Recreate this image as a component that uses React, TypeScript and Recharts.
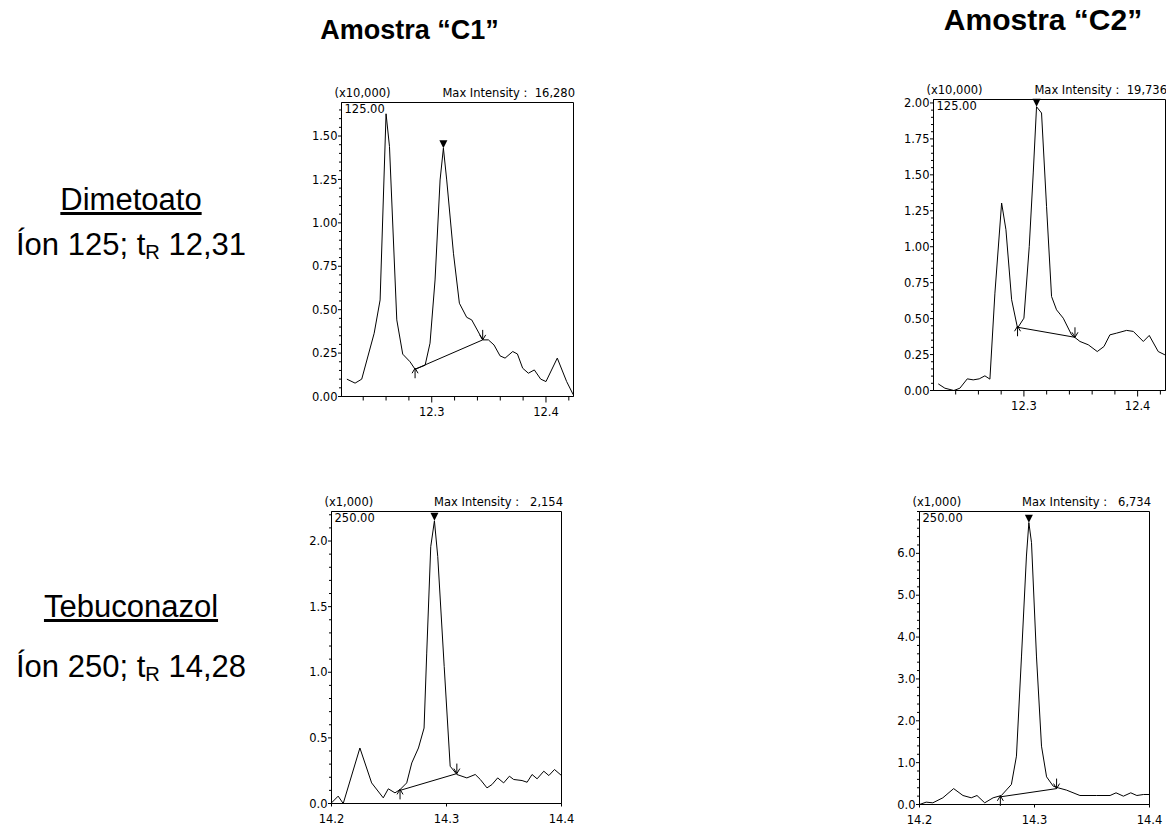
import { LineChart, Line, XAxis, YAxis, ReferenceArea, ReferenceLine, ReferenceDot } from "recharts"

const TICK_FONT = "'DejaVu Sans', Verdana, sans-serif"
const TEXT_FONT = "'Liberation Sans', Arial, sans-serif"

// Dimetoato, ion 125 — retention time (min) vs intensity (x10,000)
const C1_DIM_TIME = [12.2257, 12.2329, 12.2387, 12.2496, 12.2548, 12.26, 12.263, 12.2694, 12.2746, 12.281, 12.2854, 12.2942, 12.2985, 12.3029, 12.3073, 12.3102, 12.3131, 12.319, 12.3242, 12.3306, 12.335, 12.3446, 12.3496, 12.3545, 12.3598, 12.3642, 12.3709, 12.375, 12.3796, 12.3846, 12.3898, 12.3954, 12.4, 12.4099, 12.4181, 12.4239]
const C1_DIM_INT = [0.1, 0.077, 0.1, 0.364, 0.556, 1.628, 1.44, 0.441, 0.244, 0.2, 0.157, 0.18, 0.307, 0.671, 1.247, 1.43, 1.247, 0.825, 0.537, 0.456, 0.441, 0.326, 0.326, 0.297, 0.234, 0.221, 0.259, 0.245, 0.163, 0.134, 0.153, 0.1, 0.086, 0.221, 0.086, 0.01]

const C2_DIM_TIME = [12.2247, 12.2305, 12.2384, 12.2437, 12.2502, 12.2554, 12.2607, 12.2657, 12.2701, 12.2745, 12.2804, 12.2842, 12.2892, 12.2944, 12.3, 12.3047, 12.3082, 12.3111, 12.3155, 12.3199, 12.3243, 12.3287, 12.3346, 12.3419, 12.3493, 12.3566, 12.3645, 12.3704, 12.3756, 12.3815, 12.3903, 12.3962, 12.405, 12.4102, 12.4181, 12.424]
const C2_DIM_INT = [0.046, 0.016, 0.0, 0.016, 0.081, 0.074, 0.081, 0.102, 0.079, 0.677, 1.304, 1.118, 0.631, 0.434, 0.503, 1.002, 1.513, 1.9736, 1.93, 1.281, 0.654, 0.561, 0.503, 0.387, 0.341, 0.318, 0.271, 0.306, 0.387, 0.399, 0.418, 0.411, 0.341, 0.383, 0.271, 0.248]

// Tebuconazol, ion 250 — retention time (min) vs intensity (x1,000)
const C1_TEB_TIME = [14.2, 14.2058, 14.2102, 14.2247, 14.2349, 14.245, 14.2494, 14.2552, 14.2596, 14.2654, 14.2698, 14.2756, 14.2805, 14.2828, 14.2863, 14.2895, 14.2924, 14.298, 14.3032, 14.309, 14.3177, 14.325, 14.3294, 14.3352, 14.3395, 14.3445, 14.3497, 14.3547, 14.3584, 14.3657, 14.3701, 14.3744, 14.3788, 14.3846, 14.389, 14.3939, 14.4]
const C1_TEB_INT = [0.005, 0.056, 0.0, 0.423, 0.157, 0.043, 0.112, 0.081, 0.106, 0.157, 0.309, 0.423, 0.575, 1.146, 1.957, 2.154, 1.881, 1.044, 0.284, 0.221, 0.195, 0.221, 0.183, 0.119, 0.144, 0.195, 0.157, 0.208, 0.183, 0.175, 0.162, 0.221, 0.188, 0.246, 0.213, 0.259, 0.213]

const C2_TEB_TIME = [14.2, 14.2058, 14.2116, 14.2203, 14.2297, 14.2378, 14.245, 14.25, 14.2567, 14.264, 14.2712, 14.2799, 14.2843, 14.2887, 14.293, 14.2951, 14.2974, 14.3017, 14.3061, 14.3105, 14.3163, 14.3206, 14.3279, 14.3395, 14.3541, 14.3657, 14.3709, 14.3773, 14.3837, 14.389, 14.3948, 14.4]
const C2_TEB_INT = [0.0, 0.056, 0.04, 0.16, 0.38, 0.215, 0.16, 0.215, 0.04, 0.16, 0.215, 0.478, 1.155, 3.546, 5.936, 6.734, 6.255, 3.546, 1.394, 0.661, 0.438, 0.398, 0.343, 0.215, 0.215, 0.215, 0.279, 0.199, 0.279, 0.215, 0.239, 0.239]

// integration baseline: start time, start intensity, end time, end intensity
const C1_DIM_BASE = [12.2854, 0.157, 12.3446, 0.326]
const C2_DIM_BASE = [12.2944, 0.44, 12.3449, 0.37]
const C1_TEB_BASE = [14.2596, 0.1, 14.309, 0.228]
const C2_TEB_BASE = [14.2703, 0.183, 14.3192, 0.38]

// apex of the integrated peak
const C1_DIM_APEX = [12.3102, 1.43]
const C2_DIM_APEX = [12.3111, 1.9736]
const C1_TEB_APEX = [14.2895, 2.154]
const C2_TEB_APEX = [14.2951, 6.734]

const DIM_Y_MAJOR = [0, 0.25, 0.5, 0.75, 1.0, 1.25, 1.5, 1.75, 2.0]
const C1_TEB_Y_MAJOR = [0, 0.5, 1.0, 1.5, 2.0]
const C2_TEB_Y_MAJOR = [0, 1, 2, 3, 4, 5, 6]
const DIM_X_MAJOR = [12.3, 12.4]
const TEB_X_MAJOR = [14.2, 14.3, 14.4]

const Y_W = 40.5
const PAD = 2.5
const R_PAD = 18
const X_H = 26

const steps = (from: number, to: number, step: number) => {
  const out: number[] = []
  for (let i = 0; from + i * step <= to + 1e-9; i++) out.push(Math.round((from + i * step) * 10000) / 10000)
  return out
}

const isMajor = (v: number, majors: number[]) => majors.some((m) => Math.abs(m - v) < 1e-6)

type PanelProps = {
  left: number
  top: number
  width: number
  height: number
  time: number[]
  intensity: number[]
  base: number[]
  apex: number[]
  xDomain: [number, number]
  yMax: number
  yMajor: number[]
  yMinorStep: number
  yDecimals: number
  xMajor: number[]
  xMinor: number[]
  xMajorLen: number
  scale: number
  scaleLabel: string
  ion: string
}

function Panel(p: PanelProps) {
  const data = p.time.map((t, i) => ({ t, v: p.intensity[i] }))
  const yTicks = steps(0, p.yMax, p.yMinorStep)
  const xTicks = [...p.xMinor, ...p.xMajor].sort((a, b) => a - b)
  const maxInt = Math.round(Math.max(...p.intensity) * p.scale).toLocaleString("en-US")
  const chartW = Y_W + p.width + R_PAD
  const chartH = PAD + p.height + X_H

  const yTick = (props: any) => {
    const { x, y, payload } = props
    const major = isMajor(payload.value, p.yMajor)
    return (
      <g>
        <line x1={x} x2={x - (major ? 3.5 : 2.5)} y1={y} y2={y} stroke="#000" />
        {major && (
          <text x={x - 4} y={y} dy="0.36em" textAnchor="end" fontSize={11.5} fontFamily={TICK_FONT} fill="#000">
            {payload.value.toFixed(p.yDecimals)}
          </text>
        )}
      </g>
    )
  }

  const xTick = (props: any) => {
    const { x, y, payload } = props
    const major = isMajor(payload.value, p.xMajor)
    return (
      <g>
        <line x1={x} x2={x} y1={y} y2={y + (major ? p.xMajorLen : 4)} stroke="#000" />
        {major && (
          <text x={x} y={y + 19} textAnchor="middle" fontSize={11.5} fontFamily={TICK_FONT} fill="#000">
            {payload.value.toFixed(1)}
          </text>
        )}
      </g>
    )
  }

  const startArrow = (props: any) => {
    const { cx, cy } = props
    return (
      <g stroke="#000" fill="none">
        <line x1={cx} y1={cy + 9} x2={cx} y2={cy - 1} />
        <polyline points={`${cx - 3},${cy + 4} ${cx},${cy - 1} ${cx + 3},${cy + 4}`} />
      </g>
    )
  }

  const endArrow = (props: any) => {
    const { cx, cy } = props
    return (
      <g stroke="#000" fill="none">
        <line x1={cx} y1={cy - 10} x2={cx} y2={cy} />
        <polyline points={`${cx - 3},${cy - 5} ${cx},${cy} ${cx + 3},${cy - 5}`} />
      </g>
    )
  }

  const apexMark = (props: any) => {
    const { cx, cy } = props
    return <polygon points={`${cx - 4},${cy - 8} ${cx + 4},${cy - 8} ${cx},${cy}`} fill="#000" />
  }

  const headStyle = {
    position: "absolute" as const,
    fontFamily: TICK_FONT,
    fontSize: 11.5,
    lineHeight: "12px",
    whiteSpace: "pre" as const,
    color: "#000",
  }

  return (
    <>
      <div style={{ position: "absolute", left: p.left - Y_W, top: p.top - PAD, width: chartW, height: chartH }}>
        <LineChart width={chartW} height={chartH} data={data} margin={{ top: PAD, right: R_PAD, bottom: 0, left: 0 }}>
          <XAxis
            type="number"
            dataKey="t"
            domain={p.xDomain}
            allowDataOverflow
            ticks={xTicks}
            interval={0}
            tickSize={0}
            tickMargin={0}
            tickLine={false}
            axisLine={{ stroke: "#000" }}
            height={X_H}
            tick={xTick}
          />
          <YAxis
            type="number"
            domain={[0, p.yMax]}
            allowDataOverflow
            ticks={yTicks}
            interval={0}
            tickSize={0}
            tickMargin={0}
            tickLine={false}
            axisLine={{ stroke: "#000" }}
            width={Y_W}
            tick={yTick}
          />
          <ReferenceArea x1={p.xDomain[0]} x2={p.xDomain[1]} y1={0} y2={p.yMax} fill="none" stroke="#000" strokeWidth={1} />
          <Line
            type="linear"
            dataKey="v"
            stroke="#000"
            strokeWidth={1}
            dot={false}
            activeDot={false}
            isAnimationActive={false}
          />
          <ReferenceLine
            segment={[
              { x: p.base[0], y: p.base[1] },
              { x: p.base[2], y: p.base[3] },
            ]}
            stroke="#000"
            strokeWidth={1}
          />
          <ReferenceDot x={p.base[0]} y={p.base[1]} r={1} shape={startArrow} />
          <ReferenceDot x={p.base[2]} y={p.base[3]} r={1} shape={endArrow} />
          <ReferenceDot x={p.apex[0]} y={p.apex[1]} r={1} shape={apexMark} />
        </LineChart>
      </div>
      <div style={{ ...headStyle, left: p.left - 7, top: p.top - 16 }}>{p.scaleLabel}</div>
      <div style={{ ...headStyle, right: 1166 - p.left - p.width - 1.5, top: p.top - 16 }}>
        {`Max Intensity : ${maxInt.padStart(7)}`}
      </div>
      <div style={{ ...headStyle, left: p.left + 3, top: p.top }}>{p.ion}</div>
    </>
  )
}

const labelStyle = (fontSize: number, top: number, center: number) => ({
  position: "absolute" as const,
  left: center - 200,
  width: 400,
  top,
  textAlign: "center" as const,
  fontFamily: TEXT_FONT,
  fontSize,
  lineHeight: 1,
  whiteSpace: "nowrap" as const,
  color: "#000",
})

const Sub = ({ children }: { children: string }) => (
  <span style={{ fontSize: "0.65em", position: "relative", top: "0.18em" }}>{children}</span>
)

export default function App() {
  return (
    <div style={{ position: "absolute", left: 0, top: 0, width: 1166, height: 825, background: "#fff", overflow: "hidden" }}>
      <div style={{ ...labelStyle(27, 17, 409.5), fontWeight: 700 }}>Amostra “C1”</div>
      <div style={{ ...labelStyle(30, 5, 1043), fontWeight: 700 }}>Amostra “C2”</div>

      <div style={{ ...labelStyle(31, 184, 131), textDecoration: "underline" }}>Dimetoato</div>
      <div style={labelStyle(31, 229, 131)}>
        Íon 125; t<Sub>R</Sub> 12,31
      </div>
      <div style={{ ...labelStyle(31, 591, 131), textDecoration: "underline" }}>Tebuconazol</div>
      <div style={labelStyle(31, 651, 131)}>
        Íon 250; t<Sub>R</Sub> 14,28
      </div>

      <Panel
        left={341.5}
        top={102.5}
        width={232}
        height={294}
        time={C1_DIM_TIME}
        intensity={C1_DIM_INT}
        base={C1_DIM_BASE}
        apex={C1_DIM_APEX}
        xDomain={[12.221, 12.4241]}
        yMax={1.693}
        yMajor={DIM_Y_MAJOR}
        yMinorStep={0.05}
        yDecimals={2}
        xMajor={DIM_X_MAJOR}
        xMinor={steps(12.24, 12.42, 0.02).filter((v) => !isMajor(v, DIM_X_MAJOR))}
        xMajorLen={6}
        scale={10000}
        scaleLabel="(x10,000)"
        ion="125.00"
      />
      <Panel
        left={933.5}
        top={99.5}
        width={232}
        height={291}
        time={C2_DIM_TIME}
        intensity={C2_DIM_INT}
        base={C2_DIM_BASE}
        apex={C2_DIM_APEX}
        xDomain={[12.2205, 12.4245]}
        yMax={2.024}
        yMajor={DIM_Y_MAJOR}
        yMinorStep={0.05}
        yDecimals={2}
        xMajor={DIM_X_MAJOR}
        xMinor={steps(12.24, 12.42, 0.02).filter((v) => !isMajor(v, DIM_X_MAJOR))}
        xMajorLen={6}
        scale={10000}
        scaleLabel="(x10,000)"
        ion="125.00"
      />
      <Panel
        left={331.5}
        top={511.5}
        width={230}
        height={292}
        time={C1_TEB_TIME}
        intensity={C1_TEB_INT}
        base={C1_TEB_BASE}
        apex={C1_TEB_APEX}
        xDomain={[14.2, 14.4]}
        yMax={2.225}
        yMajor={C1_TEB_Y_MAJOR}
        yMinorStep={0.1}
        yDecimals={1}
        xMajor={TEB_X_MAJOR}
        xMinor={[]}
        xMajorLen={3}
        scale={1000}
        scaleLabel="(x1,000)"
        ion="250.00"
      />
      <Panel
        left={919.5}
        top={511.5}
        width={230}
        height={293}
        time={C2_TEB_TIME}
        intensity={C2_TEB_INT}
        base={C2_TEB_BASE}
        apex={C2_TEB_APEX}
        xDomain={[14.2, 14.4]}
        yMax={7.0}
        yMajor={C2_TEB_Y_MAJOR}
        yMinorStep={0.2}
        yDecimals={1}
        xMajor={TEB_X_MAJOR}
        xMinor={[]}
        xMajorLen={3}
        scale={1000}
        scaleLabel="(x1,000)"
        ion="250.00"
      />
    </div>
  )
}
